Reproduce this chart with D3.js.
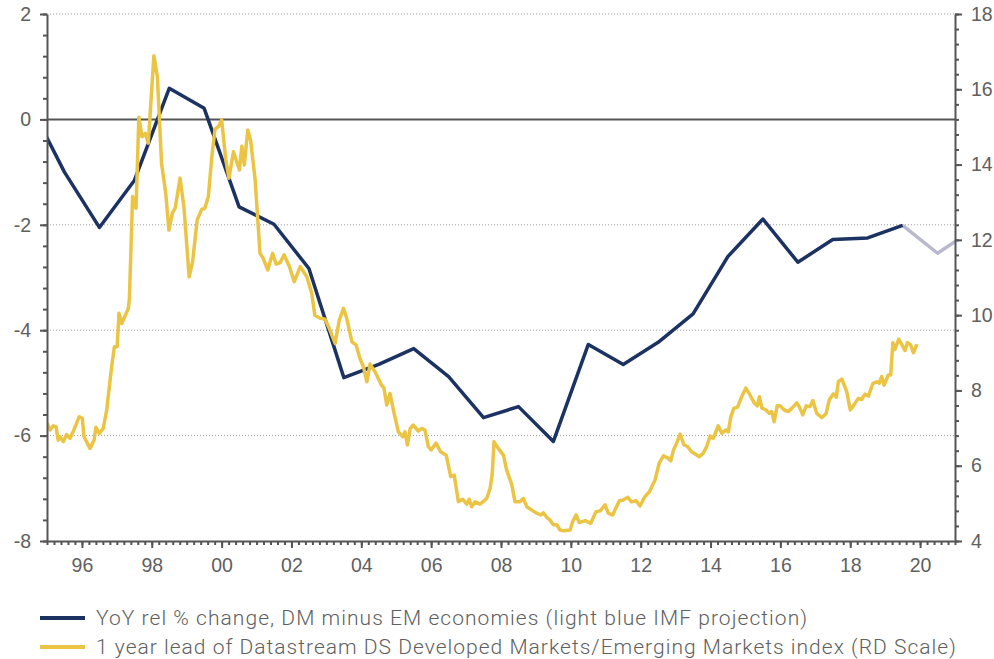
<!DOCTYPE html>
<html><head><meta charset="utf-8">
<script src="https://cdn.jsdelivr.net/npm/d3@7"></script>
<style>
body{margin:0;background:#fff;}
svg{display:block;font-family:Roboto,"Noto Sans",sans-serif;}
</style></head><body>
<svg id="c" width="994" height="659"></svg>
<script>
// Navy series: YoY rel % change, DM minus EM (annual, mid-year)
const gdpYears = [1994.5,1995.5,1996.5,1997.5,1998.5,1999.5,2000.5,2001.5,2002.5,2003.5,2004.5,2005.5,2006.5,2007.5,2008.5,2009.5,2010.5,2011.5,2012.5,2013.5,2014.5,2015.5,2016.5,2017.5,2018.5,2019.5];
const gdpValues = [0.3,-1.00,-2.05,-1.16,0.59,0.21,-1.66,-1.99,-2.83,-4.90,-4.65,-4.35,-4.88,-5.66,-5.45,-6.11,-4.27,-4.65,-4.23,-3.69,-2.60,-1.89,-2.71,-2.28,-2.25,-2.01];
// IMF projection
const projYears = [2019.5,2020.5,2021.5];
const projValues = [-2.01,-2.54,-2.10];
// Yellow series: 1 year lead of DS DM/EM index (right scale)
const idxDates = [1995.00,1995.09,1995.18,1995.26,1995.32,1995.37,1995.47,1995.56,1995.66,1995.77,1995.92,1996.01,1996.06,1996.23,1996.35,1996.40,1996.50,1996.61,1996.71,1996.85,1996.93,1997.01,1997.06,1997.14,1997.33,1997.36,1997.45,1997.55,1997.63,1997.72,1997.81,1997.90,1997.98,1998.06,1998.16,1998.28,1998.40,1998.49,1998.59,1998.67,1998.81,1998.92,1999.07,1999.17,1999.30,1999.43,1999.52,1999.62,1999.72,1999.81,1999.91,2000.00,2000.12,2000.21,2000.34,2000.43,2000.51,2000.58,2000.65,2000.75,2000.83,2000.96,2001.10,2001.19,2001.32,2001.46,2001.56,2001.67,2001.79,2001.94,2002.08,2002.25,2002.44,2002.58,2002.67,2002.82,2002.96,2003.10,2003.25,2003.37,2003.49,2003.58,2003.73,2003.85,2003.96,2004.06,2004.16,2004.25,2004.39,2004.58,2004.65,2004.73,2004.82,2004.94,2005.06,2005.19,2005.25,2005.32,2005.40,2005.49,2005.63,2005.73,2005.82,2005.92,2006.00,2006.14,2006.27,2006.43,2006.56,2006.66,2006.78,2006.90,2007.02,2007.09,2007.16,2007.26,2007.40,2007.59,2007.69,2007.75,2007.80,2007.92,2008.07,2008.16,2008.31,2008.40,2008.53,2008.64,2008.74,2008.88,2009.02,2009.14,2009.21,2009.31,2009.40,2009.50,2009.60,2009.69,2009.79,2009.98,2010.05,2010.15,2010.24,2010.41,2010.57,2010.72,2010.84,2010.98,2011.07,2011.20,2011.27,2011.39,2011.50,2011.63,2011.74,2011.87,2011.98,2012.12,2012.25,2012.41,2012.53,2012.65,2012.79,2012.86,2012.94,2013.03,2013.13,2013.24,2013.34,2013.46,2013.56,2013.68,2013.79,2013.89,2013.99,2014.08,2014.22,2014.32,2014.44,2014.51,2014.58,2014.67,2014.77,2014.89,2015.01,2015.13,2015.25,2015.34,2015.40,2015.47,2015.59,2015.68,2015.75,2015.82,2015.91,2015.99,2016.11,2016.23,2016.33,2016.47,2016.54,2016.64,2016.74,2016.85,2016.93,2017.04,2017.19,2017.31,2017.40,2017.52,2017.60,2017.66,2017.76,2017.90,2018.00,2018.09,2018.23,2018.33,2018.42,2018.52,2018.65,2018.76,2018.83,2018.90,2018.97,2019.09,2019.16,2019.22,2019.28,2019.39,2019.48,2019.57,2019.64,2019.73,2019.81,2019.91];
const idxValues = [7.13,6.95,7.06,7.03,6.68,6.77,6.64,6.83,6.73,6.95,7.30,7.26,6.77,6.46,6.68,7.02,6.86,6.99,7.48,8.63,9.16,9.16,10.05,9.78,10.18,10.45,13.15,12.84,15.26,14.74,14.83,14.57,15.72,16.89,16.34,14.03,13.24,12.26,12.71,12.84,13.64,12.88,11.02,11.42,12.53,12.81,12.84,13.15,14.21,14.94,15.01,15.19,14.12,13.64,14.34,14.08,13.86,14.49,13.99,14.92,14.65,13.59,11.64,11.51,11.20,11.64,11.36,11.39,11.60,11.29,10.89,11.29,11.02,10.58,10.00,9.92,9.89,9.61,9.25,9.87,10.18,9.92,9.29,9.21,8.85,8.63,8.23,8.70,8.50,8.14,8.06,7.61,7.92,7.39,6.90,6.77,6.90,6.55,6.99,7.08,6.92,6.99,6.95,6.51,6.42,6.60,6.37,6.28,5.71,5.75,5.04,5.11,4.98,5.11,4.91,5.04,4.98,5.13,5.40,5.80,6.64,6.46,6.28,5.89,5.49,5.04,5.04,5.13,4.91,4.82,4.74,4.69,4.75,4.63,4.56,4.43,4.43,4.29,4.27,4.29,4.51,4.69,4.49,4.54,4.47,4.78,4.80,4.96,4.74,4.69,4.84,5.07,5.09,5.16,5.04,5.07,4.93,5.18,5.31,5.62,6.07,6.26,6.20,6.13,6.42,6.60,6.84,6.55,6.51,6.37,6.31,6.24,6.33,6.51,6.79,6.73,7.06,6.86,6.95,6.90,7.30,7.53,7.55,7.83,8.06,7.88,7.67,7.59,7.83,7.53,7.48,7.39,7.44,7.17,7.59,7.59,7.48,7.44,7.53,7.67,7.57,7.35,7.59,7.57,7.73,7.39,7.28,7.39,7.75,7.91,7.82,8.23,8.30,7.97,7.48,7.59,7.79,7.76,7.90,7.85,8.19,8.23,8.19,8.37,8.14,8.41,8.41,9.27,9.09,9.36,9.21,9.06,9.27,9.21,9.00,9.23];
const xTickYears = [1996,1998,2000,2002,2004,2006,2008,2010,2012,2014,2016,2018,2020];
const leftTicks = [2,0,-2,-4,-6,-8];
const rightTicks = [18,16,14,12,10,8,6,4];
const gridValues = [2,-2,-4,-6];
const legendLabels = ["YoY rel % change, DM minus EM economies (light blue IMF projection)",
  "1 year lead of Datastream DS Developed Markets/Emerging Markets index (RD Scale)"];

const NAVY="#1b3262", YELLOW="#ecc444", PROJ="#b9b9cd", AXIS="#555555", TXT="#606060";
const svg=d3.select("#c");
const L=47,R=955,T=14,B=541;
const x=d3.scaleLinear().domain([1995,2021]).range([L,R]);
const yL=d3.scaleLinear().domain([-8,2]).range([B,T]);
const yR=d3.scaleLinear().domain([4,18]).range([B,T]);

svg.append("defs").append("clipPath").attr("id","clip").append("rect")
  .attr("x",L).attr("y",T-5).attr("width",R-L).attr("height",B-T+10);

// gridlines
svg.append("g").selectAll("line").data(gridValues).join("line")
  .attr("x1",L).attr("x2",R).attr("y1",d=>yL(d)).attr("y2",d=>yL(d))
  .attr("stroke","#9a9a9a").attr("stroke-width",1).attr("stroke-dasharray","1,2");

// zero line
svg.append("line").attr("x1",L).attr("x2",R).attr("y1",yL(0)).attr("y2",yL(0))
  .attr("stroke",AXIS).attr("stroke-width",2);

const g=svg.append("g").attr("clip-path","url(#clip)");
const lineL=d3.line().x(d=>x(d[0])).y(d=>yL(d[1]));
const lineR=d3.line().x(d=>x(d[0])).y(d=>yR(d[1]));
g.append("path").datum(projYears.map((t,i)=>[t,projValues[i]])).attr("d",lineL)
  .attr("fill","none").attr("stroke",PROJ).attr("stroke-width",3.5).attr("stroke-linejoin","round");
g.append("path").datum(gdpYears.map((t,i)=>[t,gdpValues[i]])).attr("d",lineL)
  .attr("fill","none").attr("stroke",NAVY).attr("stroke-width",3.5).attr("stroke-linejoin","round");
g.append("path").datum(idxDates.map((t,i)=>[t,idxValues[i]])).attr("d",lineR)
  .attr("fill","none").attr("stroke",YELLOW).attr("stroke-width",3.5).attr("stroke-linejoin","round");

// axes
function styleAxis(sel){
  sel.select(".domain").attr("stroke",AXIS).attr("stroke-width",2);
  sel.selectAll(".tick line").attr("stroke",AXIS).attr("stroke-width",2);
  sel.selectAll(".tick text").attr("fill",TXT).attr("font-size",19.5).attr("font-weight",300);
}
const minorX=d3.range(1995,2021.001,0.2);
const minorY=d3.range(-8,2.001,0.4);
const minorYR=d3.range(4,18.001,0.4);

// minor ticks
const xMinor=svg.append("g").attr("transform",`translate(0,${B})`)
  .call(d3.axisBottom(x).tickValues(minorX).tickSize(4).tickFormat("").tickSizeOuter(0));
xMinor.select(".domain").remove(); xMinor.selectAll("line").attr("stroke",AXIS).attr("stroke-width",2);
const yMinor=svg.append("g").attr("transform",`translate(${L},0)`)
  .call(d3.axisLeft(yL).tickValues(minorY).tickSize(4).tickFormat("").tickSizeOuter(0));
yMinor.select(".domain").remove(); yMinor.selectAll("line").attr("stroke",AXIS).attr("stroke-width",2);
const yRMinor=svg.append("g").attr("transform",`translate(${R},0)`)
  .call(d3.axisRight(yR).tickValues(minorYR).tickSize(4).tickFormat("").tickSizeOuter(0));
yRMinor.select(".domain").remove(); yRMinor.selectAll("line").attr("stroke",AXIS).attr("stroke-width",2);

const xa=svg.append("g").attr("transform",`translate(0,${B})`)
  .call(d3.axisBottom(x).tickValues(xTickYears).tickSize(7).tickSizeOuter(0).tickPadding(10)
    .tickFormat(d=>String(d%100).padStart(2,"0")));
styleAxis(xa);
const ya=svg.append("g").attr("transform",`translate(${L},0)`)
  .call(d3.axisLeft(yL).tickValues(leftTicks).tickSize(7).tickSizeOuter(0).tickPadding(9)
    .tickFormat(d=>d<0?"-"+Math.abs(d):String(d)));
styleAxis(ya);
const yb=svg.append("g").attr("transform",`translate(${R},0)`)
  .call(d3.axisRight(yR).tickValues(rightTicks).tickSize(7).tickSizeOuter(0).tickPadding(9));
styleAxis(yb);

// legend
const leg=svg.append("g");
const legColors=[NAVY,YELLOW];
const legY=[618,647];
const legWidth=[711,860];
legendLabels.forEach((lab,i)=>{
  leg.append("line").attr("x1",40).attr("x2",85).attr("y1",legY[i]).attr("y2",legY[i])
    .attr("stroke",legColors[i]).attr("stroke-width",4);
  const t=leg.append("text").attr("x",96).attr("y",legY[i]).attr("dy","0.35em")
    .attr("fill",TXT).attr("font-size",21).attr("font-weight",300).text(lab);
  const len=t.node().getComputedTextLength();
  const ls=(legWidth[i]-len)/(lab.length-1);
  t.attr("letter-spacing",ls.toFixed(2));
});
</script></body></html>
